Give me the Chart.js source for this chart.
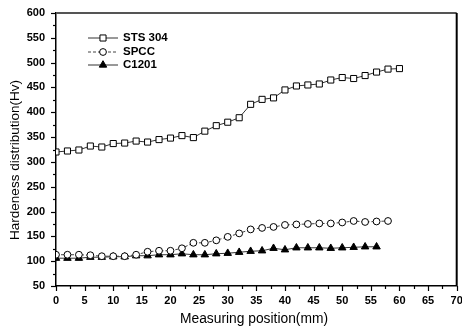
<!DOCTYPE html>
<html><head><meta charset="utf-8">
<script src="https://cdn.jsdelivr.net/npm/chart.js@4/dist/chart.umd.min.js"></script>
<style>html,body{margin:0;padding:0;background:#fff}#wrap{width:462px;height:327px}</style>
</head><body><div id="wrap"><canvas id="c" width="462" height="327"></canvas></div>
<script>
const seriesNames = ['STS 304', 'SPCC', 'C1201'];
const stsPositions = [0,2,4,6,8,10,12,14,16,18,20,22,24,26,28,30,32,34,36,38,40,42,44,46,48,50,52,54,56,58,60];
const stsValues = [320,322,324,332,330,337,338,342,340,345,348,353,349,362,373,380,389,416,426,429,445,453,455,457,465,470,468,474,481,487,488];
const spccPositions = [0,2,4,6,8,10,12,14,16,18,20,22,24,26,28,30,32,34,36,38,40,42,44,46,48,50,52,54,56,58];
const spccValues = [113,113,113,112,110,110,110,113,119,121,121,126,137,137,142,149,156,164,167,169,173,174,175,176,176,178,181,179,180,181];
const c1201Positions = [0,2,4,6,8,10,12,14,16,18,20,22,24,26,28,30,32,34,36,38,40,42,44,46,48,50,52,54,56];
const c1201Values = [106,106,106,108,108,109,109,111,111,113,113,115,113,113,115,116,118,120,121,126,123,127,127,127,126,127,128,129,129];
const xTickValues = [0,5,10,15,20,25,30,35,40,45,50,55,60,65,70];
const yTickValues = [50,100,150,200,250,300,350,400,450,500,550,600];
const xTitle = 'Measuring position(mm)';
const yTitle = 'Hardeness distribution(Hv)';

const FONT = '"Liberation Sans", Arial, sans-serif';
const toXY = (xs, ys) => xs.map((x, i) => ({x: x, y: ys[i]}));

const ticksPlugin = {
  id: 'minorTicks',
  afterDraw(chart) {
    const ctx = chart.ctx, xs = chart.scales.x, ys = chart.scales.y, a = chart.chartArea;
    ctx.save();
    ctx.strokeStyle = '#000';
    ctx.lineWidth = 1.2;
    for (let v = xs.min; v <= xs.max + 1e-6; v += 2.5) {
      const p = Math.round(xs.getPixelForValue(v)) + 0.5;
      const len = (v % 5 === 0) ? 5 : 3;
      ctx.beginPath(); ctx.moveTo(p, a.bottom); ctx.lineTo(p, a.bottom + len); ctx.stroke();
    }
    for (let v = ys.min; v <= ys.max + 1e-6; v += 25) {
      const p = Math.round(ys.getPixelForValue(v)) + 0.5;
      const len = (v % 50 === 0) ? 5 : 3;
      ctx.beginPath(); ctx.moveTo(a.left, p); ctx.lineTo(a.left - len, p); ctx.stroke();
    }
    ctx.strokeStyle = '#555';
    ctx.lineWidth = 2;
    ctx.beginPath(); ctx.moveTo(a.left, a.top); ctx.lineTo(a.right, a.top); ctx.stroke();
    ctx.strokeStyle = '#000';
    ctx.beginPath(); ctx.moveTo(a.right, a.top); ctx.lineTo(a.right, a.bottom); ctx.stroke();
    // axis titles
    ctx.fillStyle = '#000';
    ctx.textAlign = 'center';
    ctx.textBaseline = 'middle';
    ctx.font = '13.8px ' + FONT;
    ctx.fillText(xTitle, 254, 319);
    ctx.save();
    ctx.translate(15, 160);
    ctx.rotate(-Math.PI / 2);
    ctx.font = '13.5px ' + FONT;
    ctx.fillText(yTitle, 0, 0);
    ctx.restore();
    ctx.restore();
  }
};

const legendPlugin = {
  id: 'inlineLegend',
  afterDraw(chart) {
    const ctx = chart.ctx;
    const rows = [38, 52, 65];
    ctx.save();
    chart.data.datasets.forEach((ds, i) => {
      const y = rows[i];
      ctx.strokeStyle = ds.borderColor;
      ctx.lineWidth = ds.borderWidth;
      ctx.setLineDash(ds.borderDash || []);
      ctx.beginPath(); ctx.moveTo(88, y); ctx.lineTo(118, y); ctx.stroke();
      ctx.setLineDash([]);
      ctx.fillStyle = ds.pointBackgroundColor;
      ctx.strokeStyle = ds.pointBorderColor;
      ctx.lineWidth = ds.pointBorderWidth;
      Chart.helpers.drawPoint(ctx, {pointStyle: ds.pointStyle, radius: ds.pointRadius, rotation: 0, borderWidth: ds.pointBorderWidth}, 103, y);
      ctx.fillStyle = '#000';
      ctx.font = 'bold 11.5px ' + FONT;
      ctx.textBaseline = 'middle';
      ctx.textAlign = 'left';
      ctx.fillText(ds.label, 123, y);
    });
    ctx.restore();
  }
};

new Chart(document.getElementById('c'), {
  type: 'line',
  data: {
    datasets: [
      {label: seriesNames[0], data: toXY(stsPositions, stsValues), borderColor: '#333', borderWidth: 1,
       pointStyle: 'rect', pointRadius: 4.3, pointBackgroundColor: '#fff', pointBorderColor: '#000', pointBorderWidth: 1},
      {label: seriesNames[1], data: toXY(spccPositions, spccValues), borderColor: '#444', borderWidth: 1, borderDash: [3, 2],
       pointStyle: 'circle', pointRadius: 3.4, pointBackgroundColor: '#fff', pointBorderColor: '#000', pointBorderWidth: 1},
      {label: seriesNames[2], data: toXY(c1201Positions, c1201Values), borderColor: '#333', borderWidth: 1,
       pointStyle: 'triangle', pointRadius: 4.3, pointBackgroundColor: '#000', pointBorderColor: '#000', pointBorderWidth: 1}
    ]
  },
  options: {
    responsive: false,
    animation: false,
    devicePixelRatio: 1,
    layout: {padding: {top: 13, right: 2, left: 0, bottom: 0}},
    plugins: {legend: {display: false}, tooltip: {enabled: false}},
    scales: {
      x: {
        type: 'linear', min: 0, max: 70,
        afterBuildTicks: (s) => { s.ticks = xTickValues.map(v => ({value: v})); },
        afterFit: (s) => { s.height = 41; s.paddingLeft = 0; s.paddingRight = 0; },
        grid: {display: false, drawTicks: false},
        border: {display: true, color: '#000', width: 1.5},
        ticks: {color: '#000', font: {family: FONT, size: 11, weight: 'bold'}, padding: 8, maxRotation: 0, autoSkip: false},
        title: {display: false}
      },
      y: {
        type: 'linear', min: 50, max: 600,
        afterBuildTicks: (s) => { s.ticks = yTickValues.map(v => ({value: v})); },
        afterFit: (s) => { s.width = 56; s.paddingTop = 0; s.paddingBottom = 0; },
        grid: {display: false, drawTicks: false},
        border: {display: true, color: '#000', width: 1.5},
        ticks: {color: '#000', font: {family: FONT, size: 11, weight: 'bold'}, padding: 11, autoSkip: false},
        title: {display: false}
      }
    }
  },
  plugins: [ticksPlugin, legendPlugin]
});
</script>
</body></html>
